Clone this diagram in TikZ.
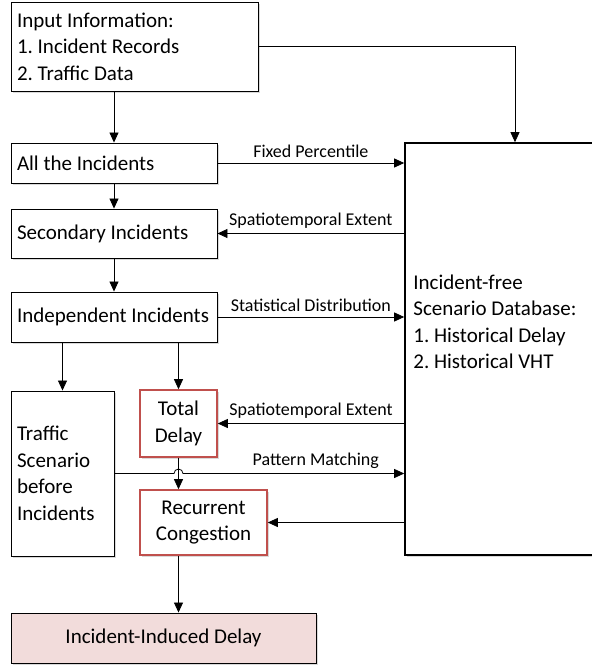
\documentclass[tikz,border=0pt]{standalone}
\usepackage{fontspec}
\setmainfont{Carlito}
\usetikzlibrary{arrows.meta}
\usetikzlibrary{shadows}

\definecolor{boxred}{HTML}{C0504D}
\definecolor{boxpink}{HTML}{F2DCDB}

\begin{document}
\frenchspacing\hyphenpenalty=10000
\begin{tikzpicture}[x=1pt,y=-1pt,line width=0.8pt,
  box/.style={draw,line width=0.9pt,fill=white,inner xsep=6pt,inner ysep=0pt,
    font=\fontsize{21}{26.5}\selectfont,
    execute at begin node={\spaceskip=0pt\relax\xspaceskip=0pt\relax},
    drop shadow={shadow xshift=1.5pt,shadow yshift=-1.5pt,opacity=0.3}},
  redbox/.style={box,draw=boxred,line width=1.6pt,align=center},
  lbl/.style={font=\fontsize{18}{20}\selectfont,above,inner sep=2pt,yshift=3pt},
  >={Triangle[length=10pt,width=9pt]}]
\useasboundingbox (0,0) rectangle (592,665);

\node[box,align=left,text width=235pt,minimum height=89pt](input) at (134.5, 46.5) {Input Information:\\1. Incident Records\\2. Traffic Data};
\node[box,align=left,text width=194pt,minimum height=40pt](all) at (114, 163) {All the Incidents};
\node[box,align=left,text width=194pt,minimum height=49pt](secondary) at (114, 233.5) {Secondary Incidents};
\node[box,align=left,text width=194pt,minimum height=50pt](independent) at (114, 317) {Independent Incidents};
\node[box,align=left,text width=91pt,minimum height=165pt](traffic) at (62.5, 473.5) {Traffic\\Scenario\\before\\Incidents};
\node[redbox,minimum width=77pt,minimum height=67pt](total) at (178.5, 423.5) {Total\\Delay};
\node[redbox,minimum width=127pt,minimum height=65pt](recurrent) at (203.5, 522.5) {Recurrent\\Congestion};
\node[box,fill=boxpink,align=center,minimum width=305pt,minimum height=50pt](induced) at (163.5, 638) {Incident-Induced Delay};

\node[box,line width=1.6pt,minimum width=220pt,minimum height=412pt](db) at (515, 349) {};
\node[align=left,anchor=west,inner sep=0pt,font=\fontsize{21}{26.5}\selectfont](dbtext) at (413, 322) {Incident-free\\Scenario Database:\\1. Historical Delay\\2. Historical VHT};

\draw[->] (all.north |- input.south) -- (all.north);
\draw[->] (input.east) -| (db.north);
\draw[->] (all.south) -- (secondary.north);
\draw[->] (secondary.south) -- (independent.north);
\draw[->] (traffic.north |- independent.south) -- (traffic.north);
\draw[->] (total.north |- independent.south) -- (total.north);

\draw[->] (all.east) -- node[lbl]{Fixed Percentile} (all.east -| db.west);
\draw[->] (secondary.east -| db.west) -- node[lbl]{Spatiotemporal Extent} (secondary.east);
\draw[->] (independent.east) -- node[lbl]{Statistical Distribution} (independent.east -| db.west);
\draw[->] (total.east -| db.west) -- node[lbl]{Spatiotemporal Extent} (total.east);

\coordinate (hop) at (total.south |- traffic.east);
\draw[->] (traffic.east) -- ([xshift=-4.5pt]hop) arc[start angle=180,end angle=0,radius=4.5pt] -- node[lbl,pos=0.6]{Pattern Matching} (traffic.east -| db.west);
\draw[->] (total.south) -- (total.south |- recurrent.north);
\draw[->] (recurrent.east -| db.west) -- (recurrent.east);
\draw[->] (recurrent.south -| total.south) -- (induced.north -| total.south);
\end{tikzpicture}
\end{document}
